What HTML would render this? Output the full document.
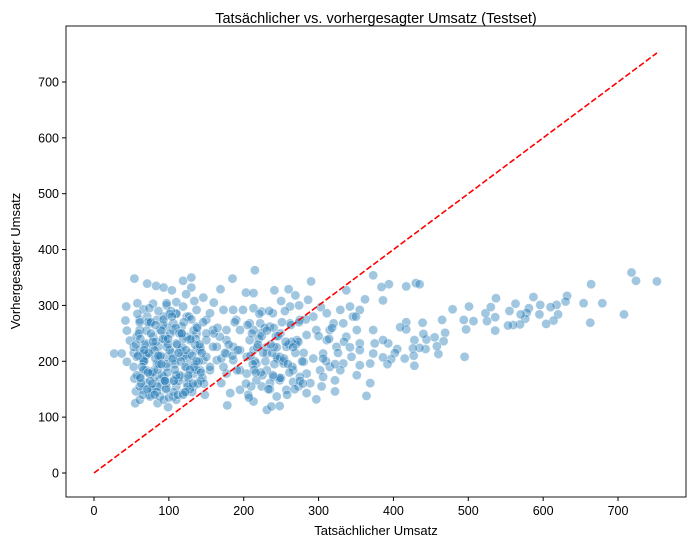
<!DOCTYPE html>
<html><head><meta charset="utf-8">
<style>
body{margin:0;background:#fff;}
svg{display:block;font-family:"Liberation Sans","DejaVu Sans",sans-serif;}
</style></head>
<body>
<svg id="chart" width="695" height="547" viewBox="0 0 695 547" xmlns="http://www.w3.org/2000/svg">
<rect x="0" y="0" width="695" height="547" fill="#fff"/>
<text x="376" y="23" text-anchor="middle" font-size="14.5" fill="#000">Tatsächlicher vs. vorhergesagter Umsatz (Testset)</text>
<g id="points"></g>
<g id="ideal"></g>
<g id="axes"></g>
<text x="376" y="535" text-anchor="middle" font-size="13" fill="#000">Tatsächlicher Umsatz</text>
<text transform="translate(20,261) rotate(-90)" text-anchor="middle" font-size="13" fill="#000">Vorhergesagter Umsatz</text>
</svg>
<script>
const xTicks=[0,100,200,300,400,500,600,700];
const yTicks=[0,100,200,300,400,500,600,700];
const lineRange=[0,752];
const actual=[718,724,752,664,708,679,654,663,632,630,618,620,614,604,610,595,596,587,581,578,576,570,569,560,553,555,563,536,536,525,523,530,537,501,507,497,494,495,479,465,469,467,460,458,455,444,439,440,443,435,428,426,427,428,417,417,409,415,405,402,397,392,386,393,386,430,435,417,394,384,386,
54,71,83,93,104,119,130,130,123,134,146,160,169,185,215,203,213,241,260,269,290,250,262,274,286,303,337,373,362,43,58,66,71,79,97,110,42,44,48,27,37,44,53,54,56,55,66,74,85,99,106,97,88,80,66,74,86,95,106,117,128,137,146,155,164,177,190,199,213,224,239,235,222,208,195,186,177,170,182,178,195,206,213,224,231,237,248,244,257,266,273,284,297,304,322,322,284,266,253,244,257,271,284,297,311,324,306,293,280,333,344,351,355,369,364,373,369,351,333,320,346,373,375,
53,61,70,79,88,61,70,84,97,106,115,124,133,142,115,124,106,93,81,53,61,70,79,88,97,106,75,61,57,84,93,110,124,137,150,159,168,177,186,204,217,231,240,217,204,195,235,248,240,231,248,213,222,262,275,293,311,329,342,355,315,337,355,355,302,315,329,275,289,306,61,57,66,79,97,110,124,137,150,159,97,88,115,128,142,150,164,173,191,177,195,213,208,186,173,155,137,119,97,75,61,84,97,110,119,133,142,133,66,75,93,110,
58,63,68,72,77,82,86,91,95,100,104,109,113,118,122,127,131,136,140,145,
60,65,69,74,78,83,88,92,97,101,106,110,115,119,124,128,133,137,142,147,
57,62,67,71,76,81,85,90,94,99,103,108,112,117,121,126,130,135,139,144,
59,64,70,75,79,84,89,93,98,102,107,111,116,120,125,129,134,138,143,148,
56,61,66,73,78,82,87,92,96,101,105,110,114,119,123,128,132,137,141,146,
62,67,72,76,81,86,90,95,99,104,108,113,117,122,126,131,
205,210,215,220,225,230,235,240,245,250,255,260,265,270,275,280,
207,212,218,223,228,233,238,243,248,253,258,263,268,273,278,283,
203,209,214,219,224,229,234,239,244,249,254,259,264,269,274,279,
211,216,221,226,231,236,241,246,251,256,261,266,
160,165,170,175,180,185,150,155,188,192,300,310,318,326,334,342,350,306,314,322,330,338,346,354];
const predicted=[359,344,343,338,284,304,304,269,317,307,301,284,273,267,297,284,301,315,295,287,276,284,266,265,264,290,303,255,279,272,286,297,313,298,272,257,274,208,293,274,251,236,213,227,243,239,269,249,222,224,238,223,210,192,270,257,261,205,222,215,204,195,207,232,238,340,338,334,338,333,309,
348,339,335,332,327,344,350,332,320,308,314,305,329,348,363,323,322,327,329,318,343,308,298,300,310,297,327,354,311,298,304,293,280,303,300,306,273,255,237,214,214,199,215,169,146,125,149,140,125,118,137,152,166,184,199,214,226,238,256,262,238,220,202,184,226,238,274,292,295,289,286,262,250,238,220,202,178,161,143,121,149,140,128,155,113,119,120,137,149,163,155,143,132,155,146,166,178,184,196,208,226,238,247,256,238,226,214,205,199,196,208,175,193,161,138,214,196,256,268,268,280,256,232,
190,172,161,149,137,155,184,196,190,202,208,190,178,166,172,161,166,172,172,226,220,232,244,256,262,268,268,274,244,274,280,286,280,262,274,256,244,256,226,208,196,184,172,166,178,184,161,166,226,214,208,220,268,268,274,280,286,292,298,292,256,244,232,220,184,190,184,172,161,172,256,208,214,226,226,232,244,250,238,226,208,208,220,214,220,208,202,190,184,214,256,256,268,292,292,286,292,298,304,137,131,155,161,155,143,155,184,196,202,178,131,131,
285,160,230,270,150,205,290,175,245,135,215,260,165,225,190,280,145,240,200,170,
250,140,210,295,180,235,155,265,195,220,145,285,175,240,205,150,255,185,225,160,
175,240,200,150,270,220,185,255,165,230,290,195,140,250,210,170,275,230,160,215,
210,190,255,165,235,145,210,275,180,250,165,230,200,270,155,240,190,260,180,140,
230,270,185,215,160,265,195,240,150,285,205,175,250,140,220,185,
160,200,230,270,170,220,180,250,140,210,195,165,240,280,185,215,
250,145,175,210,265,155,200,240,175,225,150,260,205,170,290,230,
190,230,165,215,135,195,225,180,260,150,215,245,170,200,140,265,
150,235,200,275,160,210,185,230,245,200,290,175,
225,250,205,195,235,215,270,160,250,180,285,215,255,230,195,245,270,235,180,225,250,260,205,215,
230,210,250,190,270,220,245,200,260,215,235,225,280,205,240,195];
const ns='http://www.w3.org/2000/svg';
const L=66,R=686,T=26,B=497;
function xs(v){return 94+v*0.7486;}
function ys(v){return 473-v*0.5586;}
const pts=document.getElementById('points');
const n=Math.min(actual.length,predicted.length);
for(let i=0;i<n;i++){
  const c=document.createElementNS(ns,'circle');
  c.setAttribute('cx',xs(actual[i]).toFixed(1));
  c.setAttribute('cy',ys(predicted[i]).toFixed(1));
  c.setAttribute('r','4.6');
  c.setAttribute('fill','rgba(31,119,180,0.42)');
  c.setAttribute('stroke','rgba(255,255,255,0.6)');
  c.setAttribute('stroke-width','0.6');
  
  
  pts.appendChild(c);
}
const ln=document.createElementNS(ns,'line');
ln.setAttribute('x1',xs(lineRange[0]));ln.setAttribute('y1',ys(lineRange[0]));
ln.setAttribute('x2',xs(lineRange[1]));ln.setAttribute('y2',ys(lineRange[1]));
ln.setAttribute('stroke','#ff0000');ln.setAttribute('stroke-width','1.6');ln.setAttribute('stroke-dasharray','6,2.5');


document.getElementById('ideal').appendChild(ln);
const ax=document.getElementById('axes');
const fr=document.createElementNS(ns,'rect');
fr.setAttribute('x',L);fr.setAttribute('y',T);fr.setAttribute('width',R-L);fr.setAttribute('height',B-T);
fr.setAttribute('fill','none');fr.setAttribute('stroke','#000');fr.setAttribute('stroke-width','0.9');


ax.appendChild(fr);
xTicks.forEach(t=>{
  const x=xs(t);
  const tk=document.createElementNS(ns,'line');
  tk.setAttribute('x1',x);tk.setAttribute('x2',x);tk.setAttribute('y1',B);tk.setAttribute('y2',B+4);tk.setAttribute('stroke','#000');
  
  
  ax.appendChild(tk);
  const tx=document.createElementNS(ns,'text');
  tx.setAttribute('x',x);tx.setAttribute('y',B+18);tx.setAttribute('text-anchor','middle');tx.setAttribute('font-size','12.5');
  tx.textContent=t;
  
  
  ax.appendChild(tx);
});
yTicks.forEach(t=>{
  const y=ys(t);
  const tk=document.createElementNS(ns,'line');
  tk.setAttribute('x1',L-4);tk.setAttribute('x2',L);tk.setAttribute('y1',y);tk.setAttribute('y2',y);tk.setAttribute('stroke','#000');
  
  
  ax.appendChild(tk);
  const tx=document.createElementNS(ns,'text');
  tx.setAttribute('x',L-7);tx.setAttribute('y',y+4.5);tx.setAttribute('text-anchor','end');tx.setAttribute('font-size','12.5');
  tx.textContent=t;
  
  
  ax.appendChild(tx);
});
</script>
</body></html>
